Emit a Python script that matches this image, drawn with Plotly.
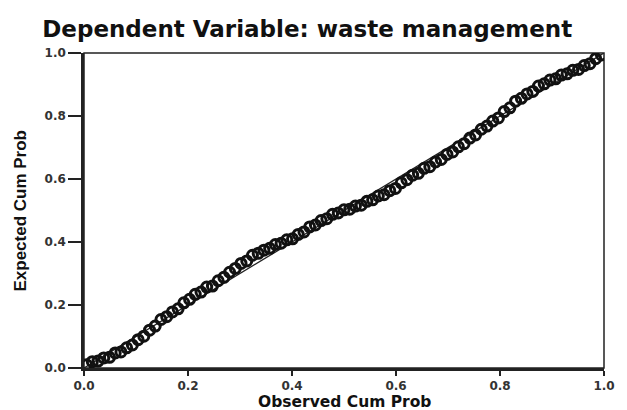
import plotly.graph_objects as go

# P-P plot of regression standardized residuals
observed_cum_prob = [
    0.005, 0.016, 0.027, 0.038, 0.049, 0.060, 0.071, 0.082, 0.093, 0.104,
    0.115, 0.126, 0.137, 0.148, 0.159, 0.170, 0.181, 0.192, 0.203, 0.214,
    0.225, 0.236, 0.247, 0.258, 0.269, 0.280, 0.291, 0.302, 0.313, 0.324,
    0.335, 0.346, 0.357, 0.368, 0.379, 0.390, 0.401, 0.412, 0.423, 0.434,
    0.445, 0.456, 0.467, 0.478, 0.489, 0.500, 0.511, 0.522, 0.533, 0.544,
    0.555, 0.566, 0.577, 0.588, 0.599, 0.610, 0.621, 0.632, 0.643, 0.654,
    0.665, 0.676, 0.687, 0.698, 0.709, 0.720, 0.731, 0.742, 0.753, 0.764,
    0.775, 0.786, 0.797, 0.808, 0.819, 0.830, 0.841, 0.852, 0.863, 0.874,
    0.885, 0.896, 0.907, 0.918, 0.929, 0.940, 0.951, 0.962, 0.973, 0.984,
    0.995,
]
expected_cum_prob = [
    0.010, 0.020, 0.022, 0.032, 0.034, 0.048, 0.051, 0.064, 0.073, 0.090,
    0.101, 0.120, 0.133, 0.154, 0.163, 0.178, 0.188, 0.207, 0.218, 0.234,
    0.241, 0.257, 0.260, 0.277, 0.288, 0.304, 0.316, 0.332, 0.340, 0.358,
    0.364, 0.374, 0.380, 0.392, 0.396, 0.407, 0.410, 0.424, 0.432, 0.448,
    0.454, 0.468, 0.474, 0.488, 0.492, 0.502, 0.504, 0.514, 0.517, 0.529,
    0.534, 0.546, 0.550, 0.563, 0.570, 0.588, 0.598, 0.612, 0.618, 0.634,
    0.639, 0.654, 0.662, 0.678, 0.686, 0.702, 0.712, 0.730, 0.740, 0.758,
    0.768, 0.784, 0.794, 0.814, 0.826, 0.847, 0.856, 0.870, 0.878, 0.895,
    0.902, 0.914, 0.918, 0.930, 0.934, 0.945, 0.948, 0.960, 0.966, 0.982,
    0.994,
]
diag_x = [0.0, 1.0]
diag_y = [0.0, 1.0]
tick_vals = [0.0, 0.2, 0.4, 0.6, 0.8, 1.0]
tick_text = ["0.0", "0.2", "0.4", "0.6", "0.8", "1.0"]

WIDE = "DejaVu Sans, Verdana, sans-serif"
NARROW = "Liberation Sans Narrow, Arial Narrow, Liberation Sans, sans-serif"

fig = go.Figure()
fig.add_trace(
    go.Scatter(
        x=diag_x,
        y=diag_y,
        mode="lines",
        line=dict(color="#222", width=1.3),
        hoverinfo="skip",
        showlegend=False,
    )
)
fig.add_trace(
    go.Scatter(
        x=observed_cum_prob,
        y=expected_cum_prob,
        mode="markers",
        marker=dict(
            symbol="circle-open",
            size=10,
            color="#111",
            line=dict(width=3, color="#111"),
        ),
        showlegend=False,
    )
)

axis_common = dict(
    range=[0, 1],
    tickvals=tick_vals,
    ticktext=tick_text,
    showgrid=False,
    zeroline=False,
    showline=True,
    linecolor="#222",
    linewidth=2.5,
    ticks="outside",
    tickcolor="#222",
    tickwidth=2,
    tickfont=dict(family=WIDE, size=12, color="#333", weight="bold"),
)

fig.update_layout(
    width=627,
    height=410,
    margin=dict(l=84, r=16, t=53, b=42),
    paper_bgcolor="white",
    plot_bgcolor="white",
    title=dict(
        text="<b>Dependent Variable: waste management</b>",
        font=dict(family=WIDE, size=23, color="#111"),
        x=0.49,
        xanchor="center",
        y=1 - 29 / 410,
        yanchor="middle",
    ),
    xaxis=dict(**axis_common, ticklen=5),
    yaxis=dict(**axis_common, ticklen=13),
    annotations=[
        dict(
            text="<b>Observed Cum Prob</b>",
            xref="paper",
            yref="paper",
            x=0.5,
            y=-0.108,
            xanchor="center",
            yanchor="middle",
            showarrow=False,
            font=dict(family=WIDE, size=15.5, color="#111"),
        ),
        dict(
            text="<b>Expected Cum Prob</b>",
            xref="paper",
            yref="paper",
            x=-0.123,
            y=0.5,
            xanchor="center",
            yanchor="middle",
            textangle=-90,
            showarrow=False,
            font=dict(family=NARROW, size=17, color="#111"),
        ),
    ],
    shapes=[
        dict(
            type="rect",
            xref="paper",
            yref="paper",
            x0=0,
            y0=0,
            x1=1,
            y1=1,
            line=dict(color="#222", width=1.5),
            layer="below",
        )
    ],
)

# the page body has a default 8px margin; drop it so the figure sits at 0,0
fig.write_html(
    "out.html",
    config={"displayModeBar": False},
    post_script="document.body.style.margin='0';document.body.style.overflow='hidden';",
)
